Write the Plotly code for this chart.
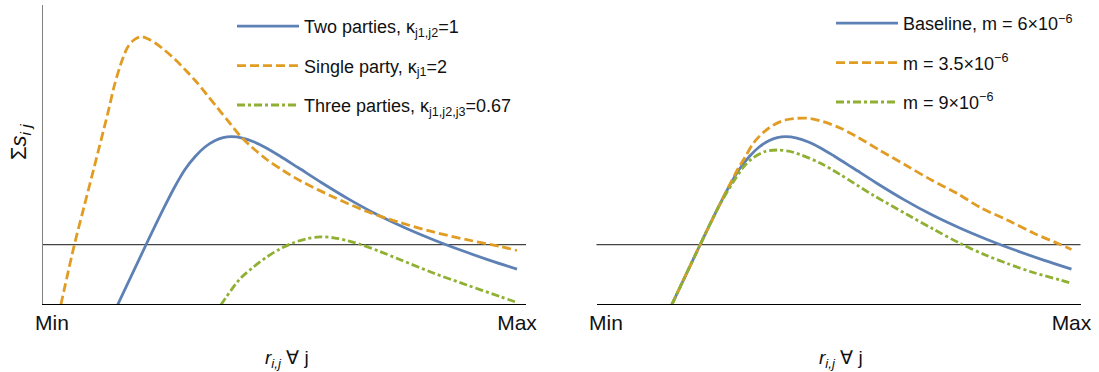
import plotly.graph_objects as go

# ---- data (x: Min=0 .. Max=1, y: arbitrary surplus units) ----
HLINE = 0.593

# left panel: number of parties
x_single = [0.019, 0.048, 0.069, 0.091, 0.120, 0.135, 0.151, 0.163, 0.176, 0.191, 0.206,
            0.222, 0.243, 0.265, 0.286, 0.308, 0.331, 0.357, 0.383, 0.406, 0.432, 0.462,
            0.497, 0.533, 0.605, 0.677, 0.748, 0.820, 0.892, 0.963, 1.0]
y_single = [-0.01, 0.59, 0.973, 1.373, 1.907, 2.20, 2.44, 2.57, 2.64, 2.673, 2.652,
            2.61, 2.535, 2.445, 2.345, 2.235, 2.105, 1.955, 1.805, 1.675, 1.56, 1.445,
            1.335, 1.235, 1.07, 0.925, 0.815, 0.721, 0.643, 0.576, 0.535]

x_two = [0.141, 0.202, 0.242, 0.265, 0.286, 0.308, 0.329, 0.351, 0.368, 0.385, 0.410,
         0.435, 0.460, 0.490, 0.530, 0.580, 0.640, 0.700, 0.760, 0.820, 0.880, 0.940,
         1.0]
y_two = [-0.01, 0.59, 0.973, 1.18, 1.345, 1.475, 1.57, 1.635, 1.663, 1.673, 1.659,
         1.620, 1.563, 1.480, 1.362, 1.213, 1.044, 0.892, 0.760, 0.643, 0.537, 0.439,
         0.349]

x_three = [0.363, 0.404, 0.432, 0.462, 0.490, 0.518, 0.546, 0.576, 0.606, 0.637, 0.667,
           0.705, 0.748, 0.820, 0.892, 0.963, 1.0]
y_three = [-0.01, 0.25, 0.365, 0.47, 0.55, 0.61, 0.65, 0.671, 0.662, 0.632, 0.59,
           0.525, 0.445, 0.31, 0.19, 0.075, 0.015]

# right panel: cost parameter m (baseline is the two-party curve)
x_m_low = [0.141, 0.202, 0.242, 0.281, 0.299, 0.317, 0.338, 0.360, 0.385, 0.410, 0.439,
           0.467, 0.503, 0.539, 0.589, 0.647, 0.699, 0.754, 0.806, 0.862, 0.918, 0.976,
           1.0]
y_m_low = [-0.01, 0.59, 0.973, 1.33, 1.47, 1.61, 1.715, 1.79, 1.84, 1.857, 1.855,
           1.823, 1.76, 1.673, 1.535, 1.38, 1.24, 1.107, 0.96, 0.84, 0.71, 0.595,
           0.545]

x_m_high = [0.141, 0.202, 0.242, 0.281, 0.299, 0.317, 0.342, 0.367, 0.396, 0.417, 0.460,
            0.503, 0.575, 0.647, 0.703, 0.761, 0.815, 0.862, 0.918, 0.976, 1.0]
y_m_high = [-0.01, 0.59, 0.973, 1.275, 1.39, 1.465, 1.525, 1.54, 1.525, 1.495, 1.41,
            1.295, 1.085, 0.895, 0.75, 0.605, 0.49, 0.405, 0.315, 0.24, 0.207]

tick_vals = [0, 1]
tick_text = ["Min", "Max"]

names_left = ["Two parties, κ<sub>j1,j2</sub>=1",
              "Single party, κ<sub>j1</sub>=2",
              "Three parties, κ<sub>j1,j2,j3</sub>=0.67"]
names_right = ["Baseline, m = 6×10<sup>−6</sup>",
               "m = 3.5×10<sup>−6</sup>",
               "m = 9×10<sup>−6</sup>"]

BLUE = "#5E81B5"
ORANGE = "#E19C24"
GREEN = "#8FB032"
LW = 2.8
DASH = "9px,4px"
DASHDOT = "8px,3px,3px,3px"
FONT = "Liberation Sans, Arial, sans-serif"

fig = go.Figure()


def add_curve(x, y, name, color, dash, xa, ya, legend, group):
    fig.add_trace(go.Scatter(
        x=x, y=y, mode="lines", name=name,
        line=dict(color=color, width=LW, dash=dash, shape="spline", smoothing=0.9),
        xaxis=xa, yaxis=ya, legend=legend, legendgroup=group,
        hoverinfo="skip"))


add_curve(x_two, y_two, names_left[0], BLUE, "solid", "x", "y", "legend", "a")
add_curve(x_single, y_single, names_left[1], ORANGE, DASH, "x", "y", "legend", "b")
add_curve(x_three, y_three, names_left[2], GREEN, DASHDOT, "x", "y", "legend", "c")

add_curve(x_two, y_two, names_right[0], BLUE, "solid", "x2", "y2", "legend2", "d")
add_curve(x_m_low, y_m_low, names_right[1], ORANGE, DASH, "x2", "y2", "legend2", "e")
add_curve(x_m_high, y_m_high, names_right[2], GREEN, DASHDOT, "x2", "y2", "legend2", "f")

W, H = 1099, 372
XR = [-0.0204, 1.0194]
YR = [0, 2.99]
ydom = [(H - 304) / H, (H - 5) / H]

xaxis_common = dict(range=XR, showgrid=False, zeroline=False, showline=True,
                    linecolor="#000", linewidth=1.3, ticks="", tickvals=tick_vals,
                    ticktext=tick_text, tickfont=dict(family=FONT, size=21, color="#111"),
                    automargin=False, fixedrange=True)

legend_common = dict(xanchor="left", yanchor="top",
                     itemwidth=62, tracegroupgap=13, bgcolor="rgba(0,0,0,0)",
                     font=dict(family=FONT, size=18, color="#111"))

fig.update_layout(
    width=W, height=H, autosize=False,
    margin=dict(l=0, r=0, t=0, b=0),
    paper_bgcolor="white", plot_bgcolor="white",
    font=dict(family=FONT, color="#111"),
    xaxis=dict(domain=[42.5 / W, 526 / W], anchor="y", **xaxis_common),
    xaxis2=dict(domain=[596.5 / W, 1080.5 / W], anchor="y2", **xaxis_common),
    yaxis=dict(domain=ydom, range=YR, showgrid=False, zeroline=False, showline=True,
               linecolor="#808080", linewidth=1.3, showticklabels=False, ticks="",
               automargin=False, anchor="x", fixedrange=True),
    yaxis2=dict(domain=ydom, range=YR, showgrid=False, zeroline=False, showline=False,
                showticklabels=False, ticks="", automargin=False, anchor="x2",
                fixedrange=True),
    legend=dict(x=232 / W, y=1 - 8 / H, **legend_common),
    legend2=dict(x=831 / W, y=1 - 5 / H, **legend_common),
    showlegend=True,
)

# reference level line in each panel
for xr, yr in (("x domain", "y"), ("x2 domain", "y2")):
    fig.add_shape(type="line", xref=xr, yref=yr, x0=0, x1=1, y0=HLINE, y1=HLINE,
                  line=dict(color="#444", width=1.2), layer="below")

# axis titles
fig.add_annotation(xref="paper", yref="paper", x=20 / W, y=1 - 142 / H,
                   xanchor="center", yanchor="middle",
                   text="Σ<i>s</i><sub><i>i j</i></sub>", textangle=-90, showarrow=False,
                   font=dict(family=FONT, size=22, color="#111"))
for cx in (287, 841):
    fig.add_annotation(xref="paper", yref="paper", x=cx / W, y=1 - 359 / H,
                       xanchor="center", yanchor="middle",
                       text="<i>r</i><sub><i>i,j</i></sub> ∀ j", showarrow=False,
                       font=dict(family=FONT, size=19, color="#111"))

fig.write_html("out.html")
